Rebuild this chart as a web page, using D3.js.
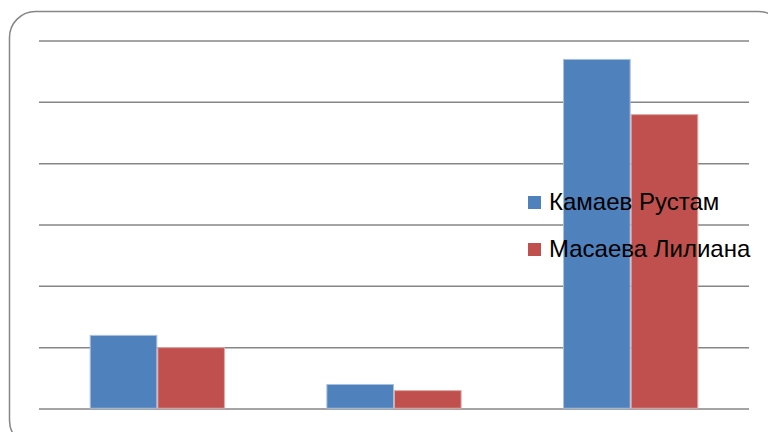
<!DOCTYPE html>
<html>
<head>
<meta charset="utf-8">
<script src="https://cdn.jsdelivr.net/npm/d3@7"></script>
<style>
  body { margin: 0; background: #fff; }
  svg { display: block; }
</style>
</head>
<body>
<div id="chart"></div>
<script>
var width = 768,
    height = 432;

// data (no axis labels shown, scale 0..6)
var categories = ["1", "2", "3"];
var seriesNames = ["Камаев Рустам", "Масаева Лилиана"];
var kamaev = [1.2, 0.4, 5.7];
var masaeva = [1.0, 0.3, 4.8];
var gridTicks = [0, 1, 2, 3, 4, 5, 6];

var colors = ["#4F81BD", "#C0504D"];
var edges = ["#A7C0DE", "#E0A8A6"];

var values = [kamaev, masaeva];

var plot = { left: 39, right: 749, top: 41, bottom: 409 };

var svg = d3.select("#chart").append("svg")
    .attr("width", width)
    .attr("height", height);

// outer frame (runs past the right/bottom edge)
svg.append("rect")
    .attr("x", 9.5)
    .attr("y", 11.5)
    .attr("width", 775)
    .attr("height", 435)
    .attr("rx", 26)
    .attr("fill", "#fff")
    .attr("stroke", "#868686")
    .attr("stroke-width", 1.5);

var x0 = d3.scaleBand()
    .domain(categories)
    .range([plot.left, plot.right]);

var bw = x0.bandwidth();
var gapHalf = bw * 1.5 / 7;   // gap width 150%

var x1 = d3.scaleBand()
    .domain(seriesNames)
    .range([gapHalf, bw - gapHalf]);

var y = d3.scaleLinear()
    .domain([0, 6])
    .range([plot.bottom, plot.top]);

// gridlines
svg.append("g")
    .selectAll("line")
    .data(gridTicks)
    .enter()
    .append("line")
        .attr("x1", plot.left)
        .attr("x2", plot.right)
        .attr("y1", d => y(d))
        .attr("y2", d => y(d))
        .attr("stroke", "#868686")
        .attr("stroke-width", 1.5);

// bars
var groups = svg.append("g")
    .selectAll("g")
    .data(categories)
    .enter()
    .append("g")
        .attr("transform", d => "translate(" + x0(d) + ",0)");

groups.selectAll("rect")
    .data((d, i) => seriesNames.map((s, j) => ({ s: s, j: j, v: values[j][i] })))
    .enter()
    .append("rect")
        .attr("x", d => x1(d.s) + 0.5)
        .attr("width", x1.bandwidth() - 1)
        .attr("y", d => y(d.v))
        .attr("height", d => y(0) - y(d.v) - 0.75)
        .attr("fill", d => colors[d.j])
        .attr("stroke", d => edges[d.j])
        .attr("stroke-width", 1);

// legend
var legend = svg.append("g")
    .selectAll("g")
    .data(seriesNames)
    .enter()
    .append("g")
        .attr("transform", (d, i) => "translate(528," + (210 + i * 47) + ")");

legend.append("rect")
    .attr("x", 0)
    .attr("y", -14)
    .attr("width", 13)
    .attr("height", 13)
    .attr("fill", (d, i) => colors[i]);

legend.append("text")
    .attr("x", 21)
    .attr("y", 0)
    .attr("font-family", "Liberation Sans, Arial, sans-serif")
    .attr("font-size", 24)
    .attr("fill", "#000")
    .text(d => d);
</script>
</body>
</html>
